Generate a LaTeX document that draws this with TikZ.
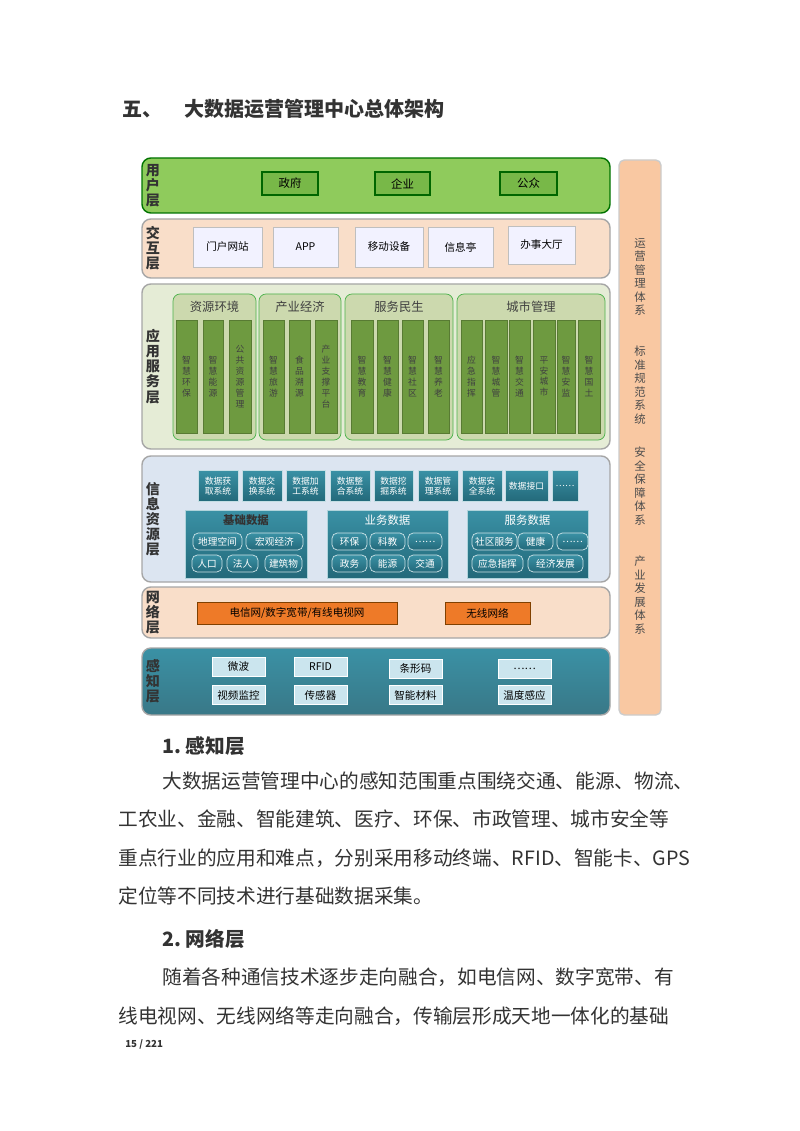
\documentclass[tikz,border=0pt]{standalone}
\usepackage{fontspec}
\setmainfont{Noto Sans CJK SC}
\definecolor{usergreen}{HTML}{8FCB5C}
\definecolor{userbox}{HTML}{78B848}
\definecolor{peach}{HTML}{F9DEC9}
\definecolor{appbg}{HTML}{E5ECD6}
\definecolor{grpbg}{HTML}{CCD9AE}
\definecolor{colgreen}{HTML}{6E9A40}
\definecolor{infobg}{HTML}{DCE5F1}
\definecolor{tealdk}{HTML}{23697A}
\definecolor{teallt}{HTML}{3A91A5}
\definecolor{netorange}{HTML}{EE7A28}
\definecolor{barpeach}{HTML}{F9C8A2}
\definecolor{sensebox}{HTML}{CBE5EE}
\newcommand{\blk}[6]{\node[#1, minimum width=#4*0.02cm, minimum height=#5*0.02cm] (#2) at (#3) {#6};}
\tikzset{
    layer/.style = {rectangle, rounded corners=5pt, draw=gray!70, line width=0.8pt, inner sep=0pt, outer sep=0pt},
    tag/.style = {font=\fontsize{8}{8.6}\selectfont\bfseries, align=center, text=black!80},
    userbtn/.style = {rectangle, draw=green!40!black, fill=userbox, line width=0.6pt, inner sep=0pt, font=\fontsize{6.5}{7}\selectfont},
    ioitem/.style = {rectangle, draw=gray!50, fill=blue!5, inner sep=0pt, font=\fontsize{6}{7}\selectfont},
    group/.style = {rectangle, rounded corners=4pt, draw=gray!60!green, fill=grpbg, inner sep=0pt},
    col/.style = {rectangle, fill=colgreen, draw=colgreen!80!black, inner sep=0pt, align=center, font=\fontsize{5}{6.2}\selectfont, text=black!75},
    sys/.style = {rectangle, top color=teallt, bottom color=tealdk, draw=white!70!teallt, inner sep=0pt, align=center, text=white, font=\fontsize{5}{5.8}\selectfont},
    store/.style = {rectangle, top color=teallt, bottom color=tealdk, draw=white!60!teallt, inner sep=0pt},
    drum/.style = {rectangle, rounded corners=3pt, top color=teallt, bottom color=tealdk, draw=white!75!teallt, inner sep=0pt, text=white, font=\fontsize{5.5}{6}\selectfont},
    netbox/.style = {rectangle, fill=netorange, draw=orange!50!black, inner sep=0pt, font=\fontsize{6}{7}\selectfont},
    sensor/.style = {rectangle, fill=sensebox, draw=white, inner sep=0pt, font=\fontsize{6}{7}\selectfont},
    para/.style = {anchor=base west, inner sep=0pt, font=\fontsize{11.2}{12}\selectfont, text=black!80}
}
\begin{document}
\begin{tikzpicture}[x=0.02cm, y=-0.02cm]
\useasboundingbox[fill=white] (0,0) rectangle (800,1131);
% heading
\node[para, font=\fontsize{11.4}{12}\selectfont\bfseries] (title) at (122,117) {五、\hspace{1.1em}大数据运营管理中心总体架构};

% user layer
\blk{layer, fill=usergreen, draw=green!45!black}{user}{376,185.5}{468}{55}{}
\node[tag] (userlbl) at (153,185.5) {用\\户\\层};
\blk{userbtn}{gov}{290,183.5}{56}{23}{政府}
\blk{userbtn}{corp}{402.5,183.5}{55}{23}{企业}
\blk{userbtn}{pub}{528.5,183.5}{57}{23}{公众}

% interaction layer
\blk{layer, fill=peach}{inter}{376,248.5}{468}{59}{}
\node[tag] (interlbl) at (153,248.5) {交\\互\\层};
\blk{ioitem}{portal}{227.5,247}{69}{40}{门户网站}
\blk{ioitem}{app}{305.5,247}{65}{40}{APP}
\blk{ioitem}{mobile}{389,247}{68}{40}{移动设备}
\blk{ioitem}{kiosk}{460.5,247}{65}{40}{信息亭}
\blk{ioitem}{hall}{541.5,245}{67}{38}{办事大厅}

% application layer
\blk{layer, fill=appbg}{appl}{376,366.5}{468}{165}{}
\node[tag] (appllbl) at (153,366.5) {应\\用\\服\\务\\层};
\blk{group}{res}{214.5,367}{83}{146}{}
\blk{group}{ind}{300,367}{82}{146}{}
\blk{group}{svc}{399,367}{108}{146}{}
\blk{group}{city}{531,367}{148}{146}{}
\foreach \t/\x in {资源环境/214.5, 产业经济/300, 服务民生/399, 城市管理/531}
  \node[font=\fontsize{7}{8}\selectfont, text=black!75] at (\x,307) {\t};
\foreach \t/\x/\w in {智\\慧\\环\\保/186.5/21, 智\\慧\\能\\源/213/20, 公\\共\\资\\源\\管\\理/240/22,
  智\\慧\\旅\\游/273.5/21, 食\\品\\溯\\源/299.5/21, 产\\业\\支\\撑\\平\\台/326/22,
  智\\慧\\教\\育/362/22, 智\\慧\\健\\康/387.5/21, 智\\慧\\社\\区/412.5/21, 智\\慧\\养\\老/438.5/21,
  应\\急\\指\\挥/471.5/21, 智\\慧\\城\\管/496/22, 智\\慧\\交\\通/519.5/21, 平\\安\\城\\市/544/22, 智\\慧\\安\\监/566/18, 智\\慧\\国\\土/589/22}
  \node[col, minimum width=\w*0.02cm, minimum height=113*0.02cm] at (\x,376.5) {\t};

% information resource layer
\blk{layer, fill=infobg}{info}{376,519}{468}{126}{}
\node[tag] (infolbl) at (153,519) {信\\息\\资\\源\\层};
\foreach \t/\x/\w in {数据获\\取系统/218/40, 数据交\\换系统/262/40, 数据加\\工系统/305.5/39, 数据整\\合系统/350/40,
  数据挖\\掘系统/393.5/39, 数据管\\理系统/438/40, 数据安\\全系统/482/40, 数据接口/526.5/43, ……/565/26}
  \node[sys, minimum width=\w*0.02cm, minimum height=31*0.02cm] at (\x,486) {\t};
\blk{store}{basic}{246,544}{122}{68}{}
\blk{store}{biz}{387.5,544}{121}{68}{}
\blk{store}{serv}{527.5,544}{121}{68}{}
\node[font=\fontsize{6.5}{7}\selectfont\bfseries, text=black!80] at (246,520) {基础数据};
\node[font=\fontsize{6.5}{7}\selectfont, text=white] at (387.5,520) {业务数据};
\node[font=\fontsize{6.5}{7}\selectfont, text=white] at (527.5,520) {服务数据};
\foreach \t/\x/\y/\w in {地理空间/217.5/541.5/49, 宏观经济/274.5/541.5/57, 人口/207/563.5/30, 法人/242.5/563.5/31, 建筑物/283.5/563.5/37,
  环保/349.5/541.5/35, 科教/387.5/541.5/35, ……/425/541.5/34, 政务/349.5/563.5/35, 能源/387.5/563.5/35, 交通/425/563.5/34,
  社区服务/494.5/541.5/45, 健康/535.5/541.5/35, ……/572.5/541.5/31, 应急指挥/497.5/563.5/51, 经济发展/555.5/563.5/55}
  \node[drum, minimum width=\w*0.02cm, minimum height=17*0.02cm] at (\x,\y) {\t};

% network layer
\blk{layer, fill=peach}{net}{376,612.5}{468}{51}{}
\node[tag] (netlbl) at (153,612.5) {网\\络\\层};
\blk{netbox}{wired}{297,613}{200}{22}{电信网/数字宽带/有线电视网}
\blk{netbox}{wireless}{487.5,613}{85}{22}{无线网络}

% perception layer
\blk{layer, top color=teallt, bottom color=tealdk!90, draw=gray!70}{sense}{376,681.5}{468}{67}{}
\node[tag] (senselbl) at (153,681.5) {感\\知\\层};
\foreach \t/\x/\y in {微波/238.5/666.5, RFID/320.5/666.5, 条形码/415.5/668.5, ……/524.5/668.5,
  视频监控/238.5/695, 传感器/320.5/695, 智能材料/415.5/695, 温度感应/524.5/695}
  \node[sensor, minimum width=53*0.02cm, minimum height=19*0.02cm] at (\x,\y) {\t};

% side bar
\blk{layer, fill=barpeach, draw=gray!40, rounded corners=3pt}{bar}{640,437.5}{42}{555}{}
\foreach \t/\y in {运\\营\\管\\理\\体\\系/277, 标\\准\\规\\范\\系\\统/385, 安\\全\\保\\障\\体\\系/486, 产\\业\\发\\展\\体\\系/595}
  \node[align=center, font=\fontsize{6.5}{7.7}\selectfont, text=black!70] at (640,\y) {\t};

% body text
\node[para, font=\fontsize{11.2}{12}\selectfont\bfseries] (h1) at (162,753) {1.\ 感知层};
\node[para] (l1) at (162,788) {大数据运营管理中心的感知范围重点围绕交通、能源、物流、};
\node[para] (l2) at (118,826) {工农业、金融、智能建筑、医疗、环保、市政管理、城市安全等};
\node[para] (l3) at (118,865) {重点行业的应用和难点，分别采用移动终端、RFID、智能卡、GPS};
\node[para] (l4) at (118,903) {定位等不同技术进行基础数据采集。};
\node[para, font=\fontsize{11.2}{12}\selectfont\bfseries] (h2) at (162,946) {2.\ 网络层};
\node[para] (l5) at (162,984) {随着各种通信技术逐步走向融合，如电信网、数字宽带、有};
\node[para] (l6) at (118,1023) {线电视网、无线网络等走向融合，传输层形成天地一体化的基础};
\node[para, font=\fontsize{5.5}{6}\selectfont\bfseries] (pg) at (125,1047) {15 / 221};
\end{tikzpicture}
\end{document}
